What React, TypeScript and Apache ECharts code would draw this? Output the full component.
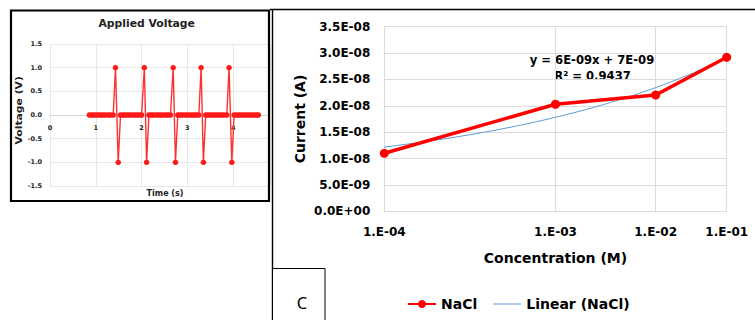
import React, { useEffect, useRef } from 'react';
import * as echarts from 'echarts';

// ---- Inset: Applied Voltage ----
const timeS = [
  0.86, 0.91, 0.96, 1.01, 1.06, 1.11, 1.16, 1.21, 1.27, 1.32, 1.38, 1.43, 1.49,
  1.54, 1.59, 1.64, 1.69, 1.74, 1.79, 1.85, 1.9, 1.95, 2.0, 2.06, 2.11,
  2.16, 2.21, 2.26, 2.32, 2.37, 2.42, 2.47, 2.53, 2.58, 2.63, 2.69, 2.74,
  2.79, 2.84, 2.89, 2.95, 3.0, 3.05, 3.1, 3.15, 3.2, 3.25, 3.3, 3.35,
  3.4, 3.45, 3.5, 3.55, 3.6, 3.65, 3.7, 3.75, 3.8, 3.86, 3.91, 3.97,
  4.02, 4.07, 4.12, 4.17, 4.22, 4.27, 4.32, 4.37, 4.42, 4.47, 4.52, 4.55,
];
const voltageV = [
  0, 0, 0, 0, 0, 0, 0, 0, 0, 0, 0, 1, -1,
  0, 0, 0, 0, 0, 0, 0, 0, 0, 0, 1, -1,
  0, 0, 0, 0, 0, 0, 0, 0, 0, 0, 1, -1,
  0, 0, 0, 0, 0, 0, 0, 0, 0, 0, 1, -1,
  0, 0, 0, 0, 0, 0, 0, 0, 0, 0, 1, -1,
  0, 0, 0, 0, 0, 0, 0, 0, 0, 0, 0, 0,
];

// ---- Main: Current vs Concentration ----
const concLabels = ['1.E-04', '1.E-03', '1.E-02', '1.E-01'];
const concIndex = [1, 2, 3, 4];
const currentA = [1.1e-8, 2.03e-8, 2.205e-8, 2.92e-8];
const trendLabels = ['y = 6E-09x + 7E-09', 'R² = 0.9437'];

const FONT = 'DejaVu Sans';

function sci(v: number): string {
  const [m, e] = v.toExponential(1).split('e');
  const n = parseInt(e, 10);
  return m + 'E' + (n < 0 ? '-' : '+') + String(Math.abs(n)).padStart(2, '0');
}

// least-squares linear trendline of the NaCl data (as Excel's "Linear (NaCl)")
function trendData(): number[][] {
  const n = concIndex.length;
  const mx = concIndex.reduce((a, b) => a + b, 0) / n;
  const my = currentA.reduce((a, b) => a + b, 0) / n;
  let sxy = 0;
  let sxx = 0;
  for (let i = 0; i < n; i++) {
    sxy += (concIndex[i] - mx) * (currentA[i] - my);
    sxx += (concIndex[i] - mx) ** 2;
  }
  const slope = sxy / sxx;
  const icpt = my - slope * mx;
  const out: number[][] = [];
  const x0 = concIndex[0];
  const x1 = concIndex[n - 1];
  const steps = 60;
  for (let k = 0; k <= steps; k++) {
    const x = x0 + ((x1 - x0) * k) / steps;
    out.push([x, slope * x + icpt]);
  }
  return out;
}

export default function App() {
  const ref = useRef<HTMLDivElement>(null);
  useEffect(() => {
    if (!ref.current) return;
    const chart = echarts.init(ref.current, undefined, { renderer: 'svg' });
    const grid = '#dcdcdc';
    chart.setOption({
      animation: false,
      backgroundColor: '#ffffff',
      legend: {
        data: [
          { name: 'NaCl' },
          { name: 'Linear (NaCl)', icon: 'path://M0,0 H28 V1 H0 Z' },
        ],
        left: 402,
        top: 292,
        itemWidth: 28,
        itemHeight: 10,
        itemGap: 16,
        textStyle: { fontFamily: FONT, fontWeight: 'bold', fontSize: 14, color: '#000' },
      },
      grid: [
        { left: 50, top: 44, width: 219.8, height: 142 },
        { left: 384.3, top: 26.7, width: 342.4, height: 184.6 },
      ],
      xAxis: [
        {
          type: 'value',
          gridIndex: 0,
          min: 0,
          max: 4.8,
          interval: 1,
          offset: -71,
          axisLine: { onZero: false, lineStyle: { color: '#d9d9d9' } },
          axisTick: { show: false },
          axisLabel: {
            margin: 9,
            fontFamily: FONT,
            fontWeight: 'bold',
            fontSize: 6.5,
            color: '#222',
            showMaxLabel: false,
            formatter: (v: number) => (Number.isInteger(v) ? String(v) : ''),
          },
          splitLine: { show: true, lineStyle: { color: '#e6e6e6' } },
        },
        {
          type: 'log',
          gridIndex: 1,
          logBase: 10,
          min: 1,
          max: 4,
          axisLine: { lineStyle: { color: grid } },
          axisTick: { show: false, customValues: concIndex },
          axisLabel: {
            customValues: concIndex,
            margin: 15,
            fontFamily: FONT,
            fontWeight: 'bold',
            fontSize: 12,
            color: '#000',
            formatter: (v: number) => concLabels[concIndex.indexOf(Math.round(v))] ?? '',
          },
          splitLine: { show: true, lineStyle: { color: grid } },
          name: 'Concentration (M)',
          nameLocation: 'middle',
          nameGap: 40,
          nameTextStyle: { fontFamily: FONT, fontWeight: 'bold', fontSize: 14, color: '#000' },
        },
      ],
      yAxis: [
        {
          type: 'value',
          gridIndex: 0,
          min: -1.5,
          max: 1.5,
          interval: 0.5,
          axisLine: { show: false },
          axisTick: { show: false },
          axisLabel: {
            margin: 8,
            fontFamily: FONT,
            fontWeight: 'bold',
            fontSize: 6.5,
            color: '#222',
            formatter: (v: number) => v.toFixed(1),
          },
          splitLine: { show: true, lineStyle: { color: '#e6e6e6' } },
        },
        {
          type: 'value',
          gridIndex: 1,
          min: 0,
          max: 3.5e-8,
          interval: 5e-9,
          axisLine: { show: false },
          axisTick: { show: false },
          axisLabel: {
            margin: 14,
            fontFamily: FONT,
            fontWeight: 'bold',
            fontSize: 12,
            color: '#000',
            formatter: (v: number) => sci(v),
          },
          splitLine: { show: true, lineStyle: { color: grid } },
          name: 'Current (A)',
          nameLocation: 'middle',
          nameGap: 77,
          nameTextStyle: { fontFamily: FONT, fontWeight: 'bold', fontSize: 14, color: '#000' },
        },
      ],
      series: [
        {
          name: 'Voltage',
          type: 'line',
          xAxisIndex: 0,
          yAxisIndex: 0,
          data: timeS.map((t, i) => [t, voltageV[i]]),
          symbol: 'circle',
          symbolSize: 5.5,
          showAllSymbol: true,
          lineStyle: { color: '#ff3030', width: 1.4 },
          itemStyle: { color: '#ff1a1a' },
        },
        {
          name: 'Linear (NaCl)',
          type: 'line',
          xAxisIndex: 1,
          yAxisIndex: 1,
          data: trendData(),
          symbol: 'none',
          smooth: false,
          lineStyle: { color: '#5b9bd5', width: 1 },
          itemStyle: { color: '#5b9bd5' },
        },
        {
          name: 'NaCl',
          type: 'line',
          xAxisIndex: 1,
          yAxisIndex: 1,
          data: concIndex.map((x, i) => [x, currentA[i]]),
          symbol: 'circle',
          symbolSize: 9,
          lineStyle: { color: '#ff0000', width: 3.5 },
          itemStyle: { color: '#ff0000' },
          z: 3,
        },
      ],
      graphic: [
        {
          type: 'text',
          x: 146.7,
          y: 23.3,
          style: {
            text: 'Applied Voltage',
            fontFamily: FONT,
            fontWeight: 'bold',
            fontSize: 10.8,
            fill: '#222',
            align: 'center',
            verticalAlign: 'middle',
          },
        },
        {
          type: 'text',
          x: 18.7,
          y: 110.3,
          rotation: Math.PI / 2,
          scaleX: 1.35,
          style: {
            text: 'Voltage (V)',
            fontFamily: FONT,
            fontWeight: 'bold',
            fontSize: 8,
            fill: '#222',
            align: 'center',
            verticalAlign: 'middle',
          },
        },
        {
          type: 'text',
          x: 165,
          y: 193.3,
          style: {
            text: 'Time (s)',
            fontFamily: FONT,
            fontWeight: 'bold',
            fontSize: 8,
            fill: '#222',
            align: 'center',
            verticalAlign: 'middle',
          },
        },
        {
          type: 'text',
          x: 592,
          y: 60,
          style: {
            text: trendLabels[0],
            fontFamily: FONT,
            fontWeight: 'bold',
            fontSize: 11.6,
            fill: '#000',
            align: 'center',
            verticalAlign: 'middle',
          },
        },
        {
          type: 'text',
          x: 592.5,
          y: 75.5,
          style: {
            text: trendLabels[1],
            fontFamily: FONT,
            fontWeight: 'bold',
            fontSize: 11.6,
            fill: '#000',
            align: 'center',
            verticalAlign: 'middle',
          },
        },
        {
          type: 'rect',
          z: 100,
          shape: { x: 11, y: 10.5, width: 258, height: 190.5 },
          style: { fill: 'none', stroke: '#000', lineWidth: 2.2 },
        },
        {
          type: 'line',
          z: 100,
          shape: { x1: 272.5, y1: 9, x2: 272.5, y2: 320 },
          style: { stroke: '#000', lineWidth: 1.4 },
        },
        {
          type: 'line',
          z: 100,
          shape: { x1: 270, y1: 9.5, x2: 755, y2: 9.5 },
          style: { stroke: '#000', lineWidth: 1.4 },
        },
        {
          type: 'rect',
          z: 100,
          shape: { x: 272.5, y: 268.5, width: 52.5, height: 53 },
          style: { fill: '#fff', stroke: '#000', lineWidth: 1 },
        },
        {
          type: 'text',
          z: 101,
          x: 302,
          y: 302,
          style: {
            text: 'C',
            fontFamily: 'Noto Sans',
            fontSize: 16.5,
            fill: '#000',
            align: 'center',
            verticalAlign: 'middle',
          },
        },
      ],
    });
    return () => chart.dispose();
  }, []);
  return (
    <div
      ref={ref}
      style={{ position: 'absolute', left: 0, top: 0, width: 755, height: 320, background: '#fff' }}
    />
  );
}
